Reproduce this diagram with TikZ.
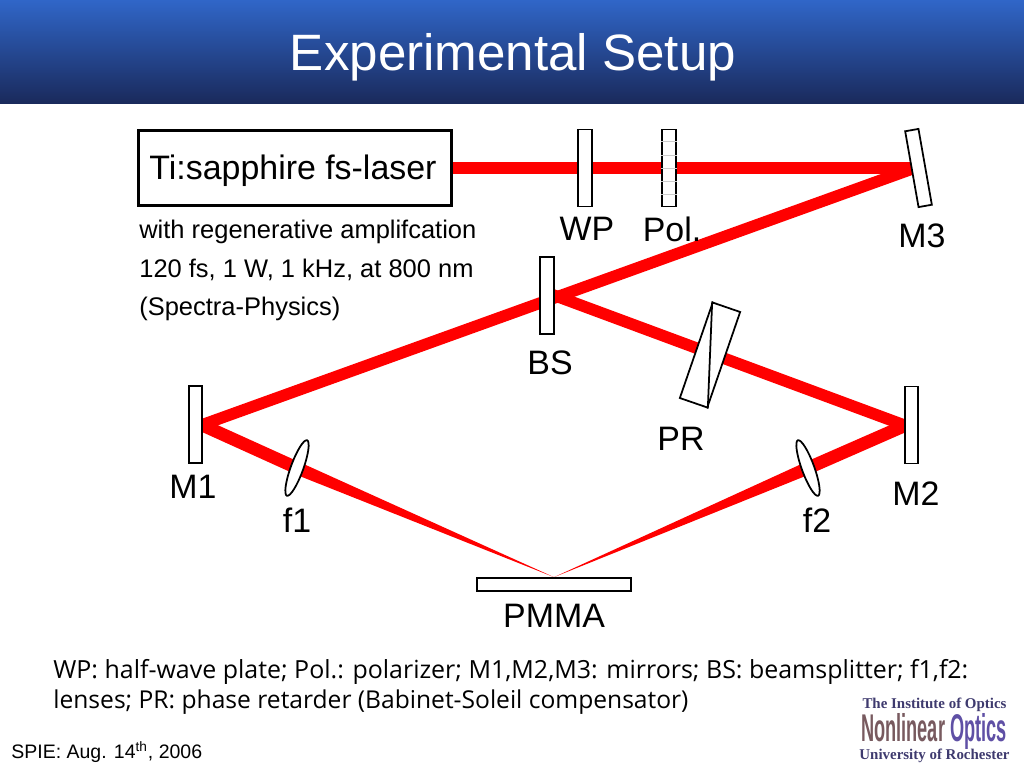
\documentclass[tikz,border=0pt]{standalone}
\usepackage{fontspec}
\setmainfont{Liberation Sans}
\newfontfamily\legendfont{Open Sans}
\newfontfamily\logofont{Liberation Serif}
\usetikzlibrary{calc,backgrounds,shapes.geometric}
\definecolor{beamred}{RGB}{255,0,0}
\definecolor{logoblue}{RGB}{62,58,110}
\definecolor{logogray}{RGB}{120,90,95}
\definecolor{logoviolet}{RGB}{95,80,165}
\definecolor{bartop}{RGB}{48,102,200}
\definecolor{barbottom}{RGB}{26,42,92}
\tikzset{
  optic/.style={draw=black,line width=1pt,fill=white,inner sep=0pt,minimum width=0.27cm,minimum height=1.54cm},
  flatplate/.style={optic,minimum width=3.08cm,minimum height=0.26cm},
  retarder/.style={optic,minimum width=0.58cm,minimum height=2.02cm},
  lens/.style={optic,ellipse,minimum width=0.25cm,minimum height=1.18cm},
  beam/.style={draw=beamred,line width=6.6pt,line cap=rect},
  label/.style={font=\fontsize{19.3}{23}\selectfont,inner sep=0pt},
  note/.style={font=\fontsize{14.5}{17}\selectfont,inner sep=0pt,anchor=west},
  legend/.style={font=\legendfont\fontsize{14.2}{17}\selectfont,inner sep=0pt,anchor=west},
  logotext/.style={text=logoblue,inner sep=0pt,font=\logofont\bfseries\fontsize{8.5}{10}\selectfont}
}
\begin{document}
\begin{tikzpicture}[x=0.02cm,y=-0.02cm]
\useasboundingbox (0,0) rectangle (1024,768);
% title bar
\shade[top color=bartop,bottom color=barbottom] (0,0) rectangle (1024,103);
\node[text=white,font=\fontsize{29.1}{34}\selectfont,inner sep=0pt] (title) at (513,57) {Experimental Setup};

% laser and optics
\node[draw=black,line width=1.3pt,fill=white,minimum width=6.26cm,minimum height=1.5cm,inner sep=0pt] (laser) at (295,168) {};
\node[label] (lasertext) at (293,171) {Ti:sapphire fs-laser};
\node[optic] (WP) at (585,168) {};
\node[optic] (Pol) at (669,168) {};
\foreach \k in {1,...,5}
  \draw[gray!40,line width=0.4pt] ($(Pol.north west)!\k/6!(Pol.south west)$) -- ($(Pol.north east)!\k/6!(Pol.south east)$);
\node[optic,rotate=10] (M3) at (918.5,168) {};
\node[optic] (BS) at (547,295.5) {};
\node[optic] (M1) at (195.5,424.5) {};
\node[optic] (M2) at (911.5,425) {};
\node[retarder,rotate=-19] (PR) at (710,355) {};
\draw[line width=1pt] (PR.north west) -- (PR.south east);
\node[lens,rotate=-20] (f1) at (297,468) {};
\node[lens,rotate=20] (f2) at (808,468) {};
\node[flatplate] (PMMA) at (554,584.5) {};
\coordinate (focus) at (PMMA.north);

% beams
\begin{scope}[on background layer]
\draw[beam] (laser.east) -- (laser.east -| M3.west);
\draw[beam] (M3.west) -- (M1.east);
\draw[beam] (BS.east) -- (M2.west);
\fill[beamred] ($(M1.east)+(0,-6)$) -- ($(f1)+(0,-7)$) -- (focus) -- ($(f1)+(0,7)$) -- ($(M1.east)+(0,8)$) -- cycle;
\fill[beamred] ($(M2.west)+(0,-6)$) -- ($(f2)+(0,-7)$) -- (focus) -- ($(f2)+(0,7)$) -- ($(M2.west)+(0,8)$) -- cycle;
\end{scope}

% labels
\node[label] (WPtext) at (587,229) {WP};
\node[label] (Poltext) at (672,229) {Pol.};
\node[label] (M3text) at (922,236) {M3};
\node[label] (BStext) at (550,363) {BS};
\node[label] (PRtext) at (681,439) {PR};
\node[label] (M1text) at (193,487) {M1};
\node[label] (M2text) at (916,494) {M2};
\node[label] (f1text) at (297,520) {f1};
\node[label] (f2text) at (817,520) {f2};
\node[label] (PMMAtext) at (554,616) {PMMA};

\node[note] (note1) at (139,232) {with regenerative amplifcation};
\node[note] (note2) at (139,270) {120 fs, 1 W, 1 kHz, at 800 nm};
\node[note] (note3) at (139,309) {(Spectra-Physics)};

\node[legend] (legend1) at (53,672) {WP: half-wave plate; Pol.: polarizer; M1,M2,M3: mirrors; BS: beamsplitter; f1,f2:};
\node[legend,font=\legendfont\fontsize{14}{17}\selectfont] (legend2) at (53,702) {lenses; PR: phase retarder (Babinet-Soleil compensator)};
\node[inner sep=0pt,anchor=west,font=\fontsize{11.1}{13}\selectfont] (date) at (11,752) {SPIE: Aug. 14\textsuperscript{th}, 2006};

% logo
\node[logotext] (logotop) at (934.5,705) {The Institute of Optics};
\node[logotext] (logobottom) at (934.5,756) {University of Rochester};
\node[inner sep=0pt,font=\bfseries\fontsize{22}{22}\selectfont,xscale=0.47] (logobig) at (934,731) {\textcolor{logogray}{Nonlinear} \textcolor{logoviolet}{Optics}};
\end{tikzpicture}
\end{document}
